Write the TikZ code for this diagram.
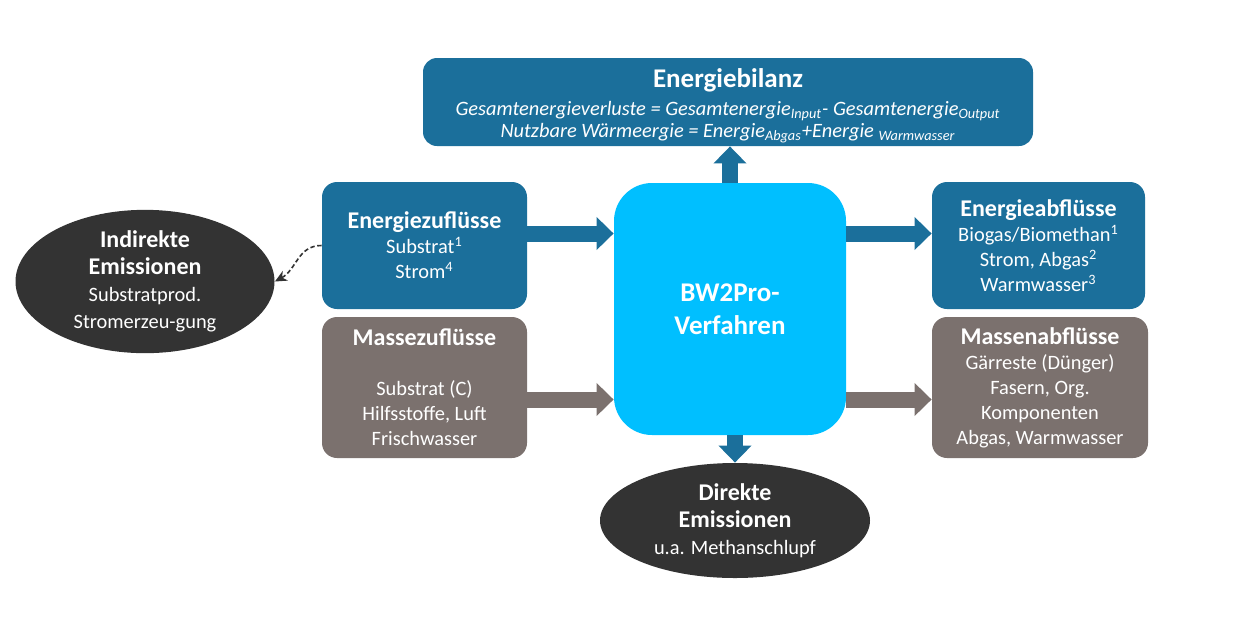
\documentclass[tikz,border=0pt]{standalone}
\usepackage{fontspec}
\setmainfont{Carlito}
\usetikzlibrary{shapes.geometric,arrows.meta}
\definecolor{bwblue}{RGB}{27,111,155}
\definecolor{bwcyan}{RGB}{0,191,255}
\definecolor{bwgray}{RGB}{123,113,110}
\definecolor{bwdark}{RGB}{51,51,51}
\newcommand{\boxtitle}[1]{{\fontsize{12}{12.5}\selectfont\bfseries #1}}
\begin{document}
\begin{tikzpicture}[x=0.5pt,y=-0.5pt,
    flowbox/.style={rectangle,rounded corners=7.5pt,text=white,align=center,inner sep=2pt,
        font=\fontsize{10.2}{12.5}\selectfont},
    emission/.style={ellipse,fill=bwdark,text=white,align=center,inner sep=0pt,
        font=\fontsize{10.2}{13.5}\selectfont},
    flow/.style={line width=8pt,-{Triangle[width=16pt,length=8.5pt]}}]
    \useasboundingbox (0,0) rectangle (1255,634);
    % boxes
    \node[flowbox,fill=bwblue,minimum width=305pt,minimum height=44pt,rounded corners=7pt] (eb) at (728,102) {};
    \node[text=white,align=center,inner sep=0pt,font=\fontsize{10.2}{11}\selectfont\itshape] at (728,106)
        {{\fontsize{13.5}{11}\selectfont\upshape\bfseries Energiebilanz}\\[3pt]
         Gesamtenergieverluste = Gesamtenergie\textsubscript{Input}- Gesamtenergie\textsubscript{Output}\\
         Nutzbare Wärmeergie = Energie\textsubscript{Abgas}+Energie \textsubscript{Warmwasser}};
    \node[flowbox,fill=bwblue,minimum width=102.5pt,minimum height=63.5pt] (ez) at (424.5,245.5)
        {\boxtitle{Energiezuflüsse}\\ Substrat\textsuperscript{1}\\ Strom\textsuperscript{4}};
    \node[flowbox,fill=bwgray,minimum width=102.5pt,minimum height=70.5pt] (mz) at (424.5,387.5)
        {\boxtitle{Massezuflüsse}\\ \\ Substrat (C)\\ Hilfsstoffe, Luft\\ Frischwasser};
    \node[flowbox,fill=bwcyan,minimum width=116pt,minimum height=126pt,rounded corners=19pt,
        font=\fontsize{13.5}{16.5}\selectfont\bfseries] (bw) at (730,309) {BW2Pro-\\ Verfahren};
    \node[flowbox,fill=bwblue,minimum width=106.5pt,minimum height=63.5pt] (ea) at (1038.5,245.5)
        {\boxtitle{Energieabflüsse}\\ Biogas/Biomethan\textsuperscript{1}\\ Strom, Abgas\textsuperscript{2}\\ Warmwasser\textsuperscript{3}};
    \node[flowbox,fill=bwgray,minimum width=108pt,minimum height=70.5pt] (ma) at (1040,387.5)
        {\boxtitle{Massenabflüsse}\\ Gärreste (Dünger)\\ Fasern, Org.\\ Komponenten\\ Abgas, Warmwasser};
    % emissions
    \node[emission,minimum width=129.5pt,minimum height=71.5pt] (ie) at (145,281.5)
        {{\fontsize{12}{13}\selectfont\bfseries Indirekte}\\ {\fontsize{12}{13}\selectfont\bfseries Emissionen}\\ Substratprod.\\ Stromerzeu-gung};
    \node[emission,minimum width=135pt,minimum height=57.5pt] (de) at (735,520.5)
        {{\fontsize{12}{13}\selectfont\bfseries Direkte}\\ {\fontsize{12}{13}\selectfont\bfseries Emissionen}\\ u.a. Methanschlupf};
    % flows
    \draw[flow,bwblue] ([yshift=6pt]ez.east) -- ([yshift=6pt]ez.east -| bw.west);
    \draw[flow,bwgray] ([yshift=-6pt]mz.east) -- ([yshift=-6pt]mz.east -| bw.west);
    \draw[flow,bwblue] ([yshift=6pt]ez.east -| bw.east) -- ([yshift=6pt]ea.west);
    \draw[flow,bwgray] ([yshift=-6pt]mz.east -| bw.east) -- ([yshift=-6pt]mz.east -| ma.west);
    \draw[flow,bwblue] (bw.north) -- (bw.north |- eb.south);
    \draw[flow,bwblue] (bw.south -| de.north) -- (de.north);
    \draw[bwdark,line width=0.8pt,dash pattern=on 2.2pt off 1.3pt,-{Stealth[length=6pt,width=5.5pt]}]
        (ez.west) .. controls +(-24,0) and +(22,-12) .. (ie.east);
\end{tikzpicture}
\end{document}
